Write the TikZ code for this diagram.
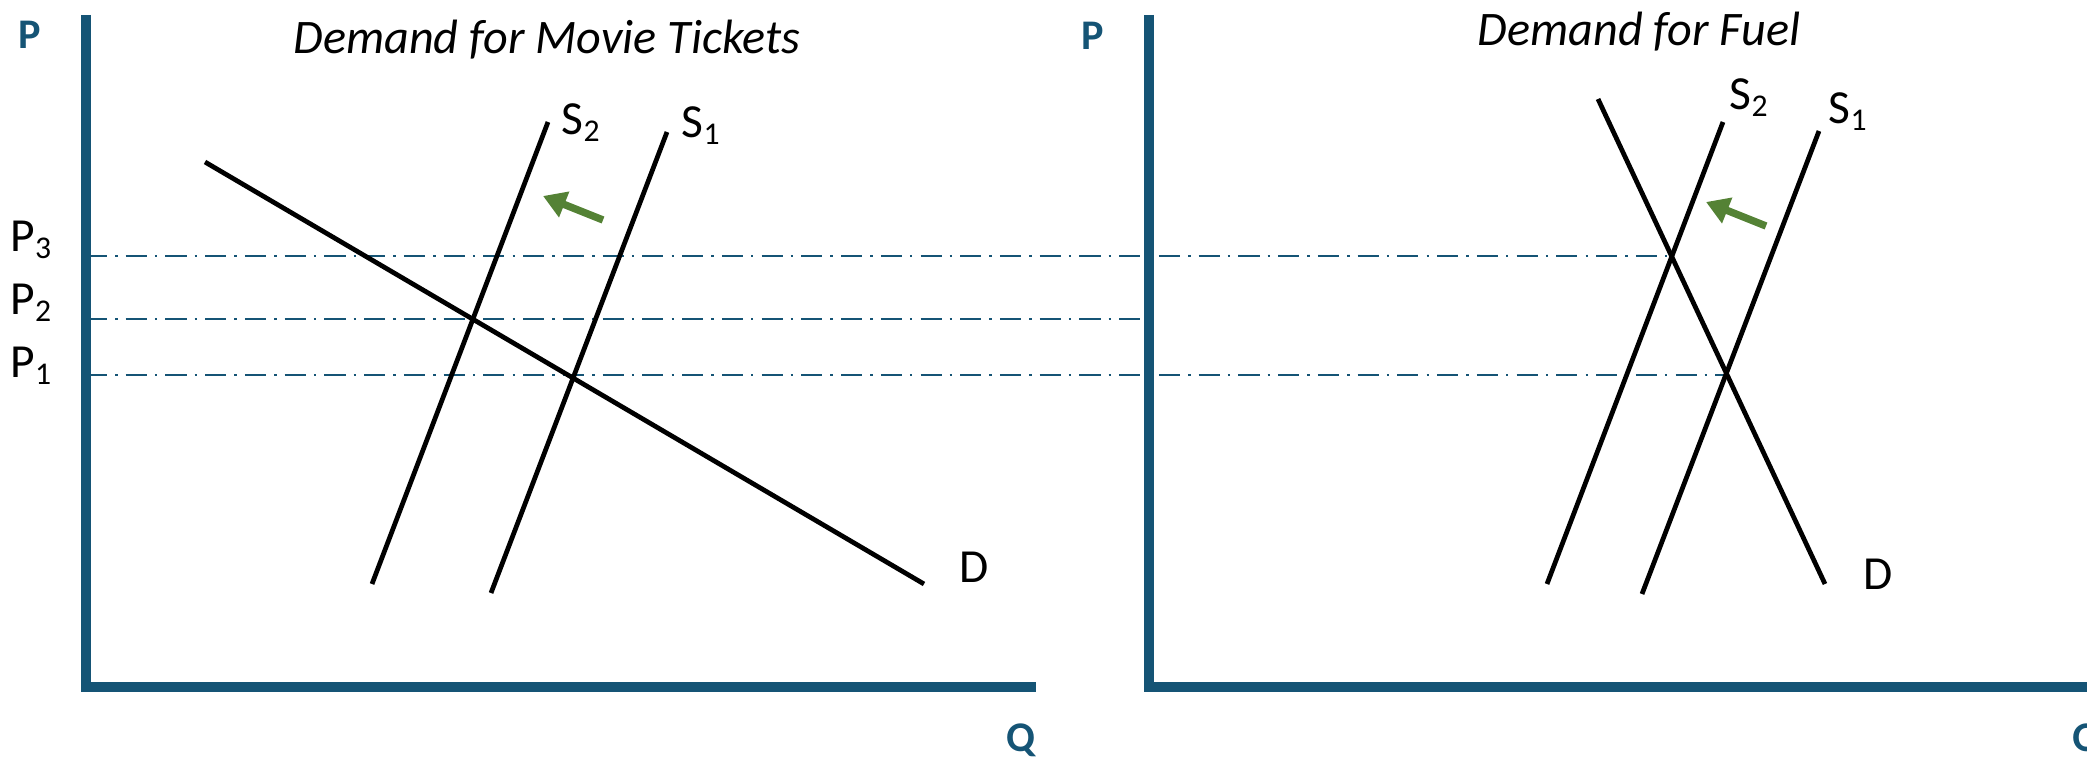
\documentclass[tikz,border=0pt]{standalone}
\usepackage{fontspec}
\setmainfont{Carlito}
\usetikzlibrary{arrows.meta}
\definecolor{axisblue}{RGB}{21,84,117}
\definecolor{arrowgreen}{RGB}{84,130,53}
\newcommand\psub[1]{\raisebox{-1.9pt}{\fontsize{9}{10}\selectfont #1}}
\begin{document}
\begin{tikzpicture}[x=0.01cm,y=-0.01cm,
  axisline/.style={draw=axisblue, line width=2.85pt, line join=miter},
  supdem/.style={draw=black, line width=1.35pt},
  pguide/.style={draw=axisblue, line width=0.75pt, dash pattern=on 6pt off 2.3pt on 0.7pt off 2.3pt},
  lbl/.style={inner sep=0pt, font=\fontsize{13.5}{15}\selectfont, anchor=base west},
  axlbl/.style={inner sep=0pt, font=\fontsize{12}{14}\selectfont\bfseries, text=axisblue},
  ttl/.style={inner sep=0pt, font=\fontsize{13.7}{15}\selectfont\itshape, anchor=base},
  shiftarrow/.style={draw=arrowgreen, line width=2.1pt, -{Triangle[length=6.5pt,width=7.5pt]}}]
\useasboundingbox (0,0) rectangle (2087,761);
\clip (0,0) rectangle (2087,761);

% ---------- coordinates ----------
% left panel
\coordinate (lTop) at (86,15);
\coordinate (lOrig) at (86,687);
\coordinate (lEnd) at (1036,687);
\coordinate (lDa) at (205,162);
\coordinate (lDb) at (924,584);
\coordinate (lS2a) at (372,584);
\coordinate (lS2b) at (548,122);
\coordinate (lS1a) at (491,593);
\coordinate (lS1b) at (667,132);
\coordinate (lArT) at (603,220);
\coordinate (lArH) at (543,196);
% right panel
\coordinate (rTop) at (1149,15);
\coordinate (rOrig) at (1149,687);
\coordinate (rEnd) at (2100,687);
\coordinate (rDa) at (1598,99);
\coordinate (rDb) at (1825,584);
\coordinate (rS2a) at (1547,584);
\coordinate (rS2b) at (1723,122);
\coordinate (rS1a) at (1642,594);
\coordinate (rS1b) at (1819,131);
\coordinate (rArT) at (1766,226);
\coordinate (rArH) at (1706,202);
% price guides
\coordinate (p3a) at (86,256);
\coordinate (p3b) at (1673,256);
\coordinate (p2a) at (86,319);
\coordinate (p2b) at (1149,319);
\coordinate (p1a) at (86,375);
\coordinate (p1b) at (1724,375);

% ---------- guides ----------
\draw[pguide] (p3a) -- (p3b);
\draw[pguide] (p2a) -- (p2b);
\draw[pguide] (p1a) -- (p1b);

% ---------- axes ----------
\draw[axisline] (lTop) -- (lOrig) -- (lEnd);
\draw[axisline] (rTop) -- (rOrig) -- (rEnd);

% ---------- curves ----------
\draw[supdem] (lDa) -- (lDb);
\draw[supdem] (lS2a) -- (lS2b);
\draw[supdem] (lS1a) -- (lS1b);
\draw[supdem] (rDa) -- (rDb);
\draw[supdem] (rS2a) -- (rS2b);
\draw[supdem] (rS1a) -- (rS1b);

% ---------- shift arrows ----------
\draw[shiftarrow] (lArT) -- (lArH);
\draw[shiftarrow] (rArT) -- (rArH);

% ---------- labels ----------
\node[axlbl] (lP) at (30,35) {P};
\node[axlbl] (rP) at (1093,36) {P};
\node[axlbl] (lQ) at (1021,740) {Q};
\node[axlbl] (rQ) at (2087,740) {Q};

\node[ttl] (t1) at (547,54) {Demand for Movie Tickets};
\node[ttl] (t2) at (1639,46) {Demand for Fuel};

\node[lbl] (P3) at (10,252) {P\psub{3}};
\node[lbl] (P2) at (10,315) {P\psub{2}};
\node[lbl] (P1) at (10,378) {P\psub{1}};

\node[lbl] (lS2) at (561,135) {S\psub{2}};
\node[lbl] (lS1) at (681,138) {S\psub{1}};
\node[lbl] (lD) at (959,583) {D};
\node[lbl] (rS2) at (1729,110) {S\psub{2}};
\node[lbl] (rS1) at (1828,124) {S\psub{1}};
\node[lbl] (rD) at (1863,590) {D};
\end{tikzpicture}
\end{document}
